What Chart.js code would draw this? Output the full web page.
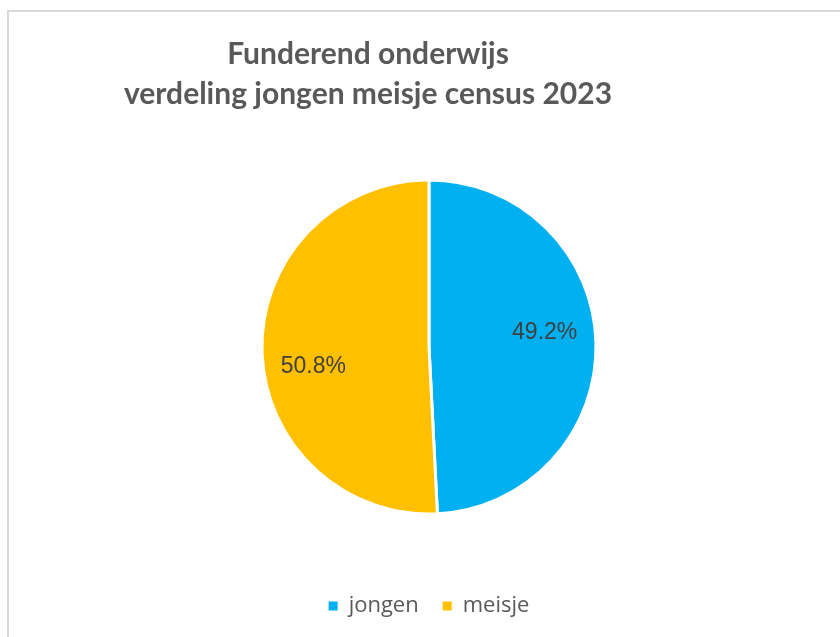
<!DOCTYPE html>
<html>
<head>
<meta charset="utf-8">
<script src="https://cdn.jsdelivr.net/npm/chart.js@4"></script>
<style>
    body { margin: 0; background: #fff; }
    #frame {
        position: absolute; left: 7px; top: 10px; width: 900px; height: 700px;
        border-top: 2px solid #d9d9d9; border-left: 2px solid #d9d9d9;
    }
    #wrap { position: absolute; left: 0; top: 0; width: 840px; height: 637px; }
</style>
</head>
<body>
<div id="frame"></div>
<div id="wrap"><canvas id="myChart"></canvas></div>
<script>
const categories = ["jongen", "meisje"];
const values = [49.2, 50.8];
const sliceColors = ["#00B0F0", "#FFC000"];
const titleLines = ["Funderend onderwijs", "verdeling jongen meisje census 2023"];

// move the title a bit to the left, like in the original
const titleShift = {
    id: 'titleShift',
    afterLayout(chart) {
        const t = chart.titleBlock;
        t.left = 0;
        t.width = 736;
        t.right = 736;
    }
};

// percentage labels inside the slices
const sliceLabels = {
    id: 'sliceLabels',
    afterDatasetsDraw(chart) {
        const ctx = chart.ctx;
        const meta = chart.getDatasetMeta(0);
        const data = chart.data.datasets[0].data;
        const total = data.reduce((a, b) => a + b, 0);
        ctx.save();
        ctx.font = "23px 'Liberation Sans', Arial, sans-serif";
        ctx.fillStyle = "#404040";
        ctx.textAlign = "center";
        ctx.textBaseline = "middle";
        meta.data.forEach((arc, i) => {
            const p = arc.getProps(['x', 'y', 'startAngle', 'endAngle', 'outerRadius'], true);
            const mid = (p.startAngle + p.endAngle) / 2 - 0.12;
            const r = p.outerRadius * 0.7;
            const text = (data[i] / total * 100).toFixed(1) + "%";
            ctx.fillText(text, p.x + Math.cos(mid) * r, p.y + Math.sin(mid) * r + 3);
        });
        ctx.restore();
    }
};

const ctx = document.getElementById('myChart');
new Chart(ctx, {
    type: 'pie',
    data: {
        labels: categories,
        datasets: [{
            data: values,
            backgroundColor: sliceColors,
            borderColor: "#ffffff",
            borderWidth: 3,
            radius: 167
        }]
    },
    options: {
        responsive: true,
        maintainAspectRatio: false,
        animation: false,
        layout: { padding: { left: 18, right: 0, top: 0, bottom: 10 } },
        plugins: {
            title: {
                display: true,
                text: titleLines,
                color: "#595959",
                font: { family: "Lato, 'Open Sans', sans-serif", size: 30, weight: 'bold', lineHeight: 40 / 30 },
                padding: { top: 34, bottom: 9 }
            },
            legend: {
                display: true,
                position: 'bottom',
                labels: {
                    color: "#595959",
                    font: { family: "'Open Sans', sans-serif", size: 22 },
                    boxWidth: 9,
                    boxHeight: 9,
                    padding: 24,
                    generateLabels(chart) {
                        return Chart.overrides.pie.plugins.legend.labels.generateLabels(chart)
                            .map(l => ({ ...l, lineWidth: 0, strokeStyle: l.fillStyle }));
                    }
                }
            },
            tooltip: { enabled: false }
        }
    },
    plugins: [titleShift, sliceLabels]
});
</script>
</body>
</html>
